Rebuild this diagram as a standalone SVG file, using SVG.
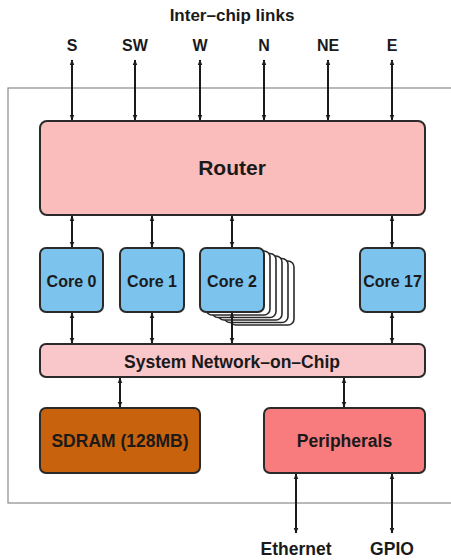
<svg xmlns="http://www.w3.org/2000/svg" width="451" height="560" viewBox="0 0 451 560">
<style>
text{font-family:"Liberation Sans",Arial,sans-serif;font-weight:bold;fill:#1a1a1a;text-anchor:middle}
.box{stroke:#2a2a2a;stroke-width:2}
.core{fill:#7cc3ee}
.sh{fill:#fff;stroke:#2a2a2a;stroke-width:1.6}
.c{stroke:#1a1a1a;stroke-width:2;fill:none;marker-start:url(#a);marker-end:url(#a)}
</style>
<defs>
<marker id="a" viewBox="0 0 10 10" refX="9" refY="5" markerWidth="6" markerHeight="6" orient="auto-start-reverse" markerUnits="userSpaceOnUse">
<path d="M0,1 L10,5 L0,9 z" fill="#1a1a1a"/>
</marker>
</defs>
<rect width="451" height="560" fill="#fff"/>
<rect id="chip" x="8" y="88" width="460" height="415" fill="none" stroke="#8a8a8a" stroke-width="1.2"/>
<text x="232" y="21" font-size="17">Inter–chip links</text>
<g font-size="16">
<text x="72" y="51">S</text>
<text x="135" y="51">SW</text>
<text x="200" y="51">W</text>
<text x="264" y="51">N</text>
<text x="328" y="51">NE</text>
<text x="392" y="51">E</text>
</g>
<g id="router"><rect class="box" x="40" y="121" width="385" height="94" rx="7" fill="#fbbcbc"/><text x="232" y="175" font-size="21">Router</text></g>
<g id="core0"><rect class="box core" x="40" y="248" width="63" height="64" rx="6"/><text x="71.5" y="287" font-size="16">Core 0</text></g>
<g id="core1"><rect class="box core" x="120" y="248" width="64" height="64" rx="6"/><text x="152" y="287" font-size="16">Core 1</text></g>
<g id="core2">
<rect class="sh" x="230" y="261" width="64" height="64" rx="6"/>
<rect class="sh" x="224" y="258.5" width="64" height="64" rx="6"/>
<rect class="sh" x="218" y="256" width="64" height="64" rx="6"/>
<rect class="sh" x="212" y="253.5" width="64" height="64" rx="6"/>
<rect class="sh" x="206" y="251" width="64" height="64" rx="6"/>
<rect class="box core" x="200" y="248" width="64" height="64" rx="6"/><text x="232" y="287" font-size="16">Core 2</text></g>
<g id="core17"><rect class="box core" x="360" y="248" width="65" height="64" rx="6"/><text x="392.5" y="287" font-size="16">Core 17</text></g>
<g id="noc"><rect class="box" x="40" y="344" width="385" height="33" rx="6" fill="#f9c6c9"/><text x="232" y="368" font-size="17.5">System Network–on–Chip</text></g>
<g id="sdram"><rect class="box" x="40" y="408" width="160" height="65" rx="6" fill="#c9620c"/><text x="120" y="447" font-size="17.5">SDRAM (128MB)</text></g>
<g id="peripherals"><rect class="box" x="264" y="408" width="161" height="65" rx="6" fill="#f87b7d"/><text x="344.5" y="447" font-size="17.5">Peripherals</text></g>
<text x="296" y="555" font-size="17.5">Ethernet</text>
<text x="392" y="555" font-size="17.5">GPIO</text>
<g id="connectors">
<path class="c" d="M72,60V120"/>
<path class="c" d="M135,60V120"/>
<path class="c" d="M200,60V120"/>
<path class="c" d="M264,60V120"/>
<path class="c" d="M328,60V120"/>
<path class="c" d="M392,60V120"/>
<path class="c" d="M72,216V247"/>
<path class="c" d="M152,216V247"/>
<path class="c" d="M232,216V247"/>
<path class="c" d="M392,216V247"/>
<path class="c" d="M72,313V343"/>
<path class="c" d="M152,313V343"/>
<path class="c" d="M232,313V343"/>
<path class="c" d="M392,313V343"/>
<path class="c" d="M120,378V407"/>
<path class="c" d="M344,378V407"/>
<path class="c" d="M296,474V533"/>
<path class="c" d="M392,474V533"/>
</g>
</svg>
